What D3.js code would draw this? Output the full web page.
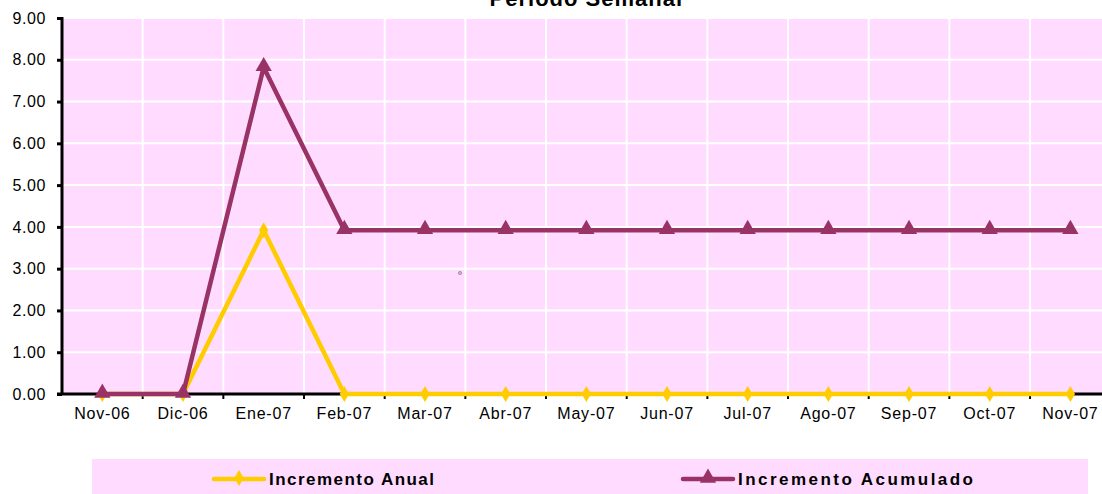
<!DOCTYPE html>
<html>
<head>
<meta charset="utf-8">
<script src="https://cdn.jsdelivr.net/npm/d3@7"></script>
<style>
  body { margin: 0; background: #fff; overflow: hidden; }
  svg { display: block; font-family: "Liberation Sans", Arial, sans-serif; }
</style>
</head>
<body>
<div id="chart"></div>
<script>
// data
var months = ["Nov-06", "Dic-06", "Ene-07", "Feb-07", "Mar-07", "Abr-07", "May-07",
              "Jun-07", "Jul-07", "Ago-07", "Sep-07", "Oct-07", "Nov-07"];
var anual = [0, 0, 3.92, 0, 0, 0, 0, 0, 0, 0, 0, 0, 0];
var acumulado = [0, 0, 7.82, 3.92, 3.92, 3.92, 3.92, 3.92, 3.92, 3.92, 3.92, 3.92, 3.92];
var yTicks = [0, 1, 2, 3, 4, 5, 6, 7, 8, 9];

var W = 1102, H = 494;
var mLeft = 62, mTop = 18, mBottom = 394;
var bandW = 80.67;
var mRight = mLeft + bandW * months.length;

var svg = d3.select("#chart").append("svg")
    .attr("width", W)
    .attr("height", H);

var x = d3.scaleBand()
    .domain(months)
    .range([mLeft, mRight]);
var y = d3.scaleLinear()
    .domain([0, 9])
    .range([mBottom, mTop]);

// title, cut at the top like the original
svg.append("text")
    .attr("x", (mLeft + mRight) / 2)
    .attr("y", 6)
    .attr("text-anchor", "middle")
    .attr("font-size", 22)
    .attr("font-weight", "bold")
    .attr("letter-spacing", 1)
    .text("Periodo Semanal");

// plot background
svg.append("rect")
    .attr("x", mLeft)
    .attr("y", mTop)
    .attr("width", mRight - mLeft)
    .attr("height", mBottom - mTop)
    .attr("fill", "#ffdcff");

// horizontal gridlines
svg.selectAll(".hgrid")
    .data(yTicks.slice(1))
    .enter().append("line")
    .attr("class", "hgrid")
    .attr("x1", mLeft).attr("x2", mRight)
    .attr("y1", function(d) { return y(d); })
    .attr("y2", function(d) { return y(d); })
    .attr("stroke", "#fff")
    .attr("stroke-width", 2);

// vertical gridlines at category boundaries
svg.selectAll(".vgrid")
    .data(months.slice(1))
    .enter().append("line")
    .attr("class", "vgrid")
    .attr("x1", function(d) { return x(d); })
    .attr("x2", function(d) { return x(d); })
    .attr("y1", mTop).attr("y2", mBottom)
    .attr("stroke", "#fff")
    .attr("stroke-width", 2);

// y axis
var yAxis = d3.axisLeft(y)
    .tickValues(yTicks)
    .tickFormat(d3.format(".2f"))
    .tickSize(5)
    .tickPadding(11);
var gy = svg.append("g")
    .attr("transform", "translate(" + mLeft + ",0)")
    .call(yAxis);
gy.select(".domain").attr("stroke", "#000").attr("stroke-width", 3)
    .attr("d", "M0," + (mTop - 1) + "V" + mBottom);
gy.selectAll(".tick line").attr("stroke", "#000").attr("stroke-width", 3);
gy.selectAll(".tick text")
    .attr("font-size", 16)
    .attr("letter-spacing", 0.6)
    .attr("font-family", "Liberation Sans, Arial, sans-serif")
    .attr("fill", "#000");

// x axis
var xAxis = d3.axisBottom(x).tickSize(0).tickPadding(14);
var gx = svg.append("g")
    .attr("transform", "translate(0," + mBottom + ")")
    .call(xAxis);
gx.select(".domain").attr("stroke", "#000").attr("stroke-width", 3)
    .attr("d", "M" + (mLeft - 5) + ",0H" + mRight);
gx.selectAll(".tick text")
    .attr("font-size", 16)
    .attr("letter-spacing", 0.8)
    .attr("font-family", "Liberation Sans, Arial, sans-serif")
    .attr("fill", "#000");
svg.selectAll(".xtick")
    .data(months.slice(1))
    .enter().append("line")
    .attr("class", "xtick")
    .attr("x1", function(d) { return x(d); })
    .attr("x2", function(d) { return x(d); })
    .attr("y1", mBottom).attr("y2", mBottom + 5)
    .attr("stroke", "#000")
    .attr("stroke-width", 2);

var cx = function(d, i) { return x(months[i]) + x.bandwidth() / 2; };
var line = d3.line()
    .x(function(d, i) { return cx(d, i); })
    .y(function(d) { return y(d); });

var tri = d3.symbol().type(d3.symbolTriangle).size(115);
var dia = d3.symbol().type(d3.symbolDiamond).size(75);

// Incremento Anual (drawn first, the purple series sits above it)
svg.append("path")
    .attr("d", line(anual))
    .attr("fill", "none")
    .attr("stroke", "#ffcc00")
    .attr("stroke-width", 4.5);

svg.selectAll(".dia")
    .data(anual)
    .enter().append("path")
    .attr("class", "dia")
    .attr("d", dia)
    .attr("transform", function(d, i) { return "translate(" + cx(d, i) + "," + y(d) + ")"; })
    .attr("fill", "#ffcc00");

// Incremento Acumulado
svg.append("path")
    .attr("d", line(acumulado))
    .attr("fill", "none")
    .attr("stroke", "#993366")
    .attr("stroke-width", 4.5);

svg.selectAll(".tri")
    .data(acumulado)
    .enter().append("path")
    .attr("class", "tri")
    .attr("d", tri)
    .attr("transform", function(d, i) { return "translate(" + cx(d, i) + "," + (y(d) - 1) + ")"; })
    .attr("fill", "#993366");

// stray mark in the original
svg.append("text")
    .attr("x", 460)
    .attr("y", 278)
    .attr("text-anchor", "middle")
    .attr("font-size", 9)
    .attr("fill", "#333")
    .text("º");

// legend
var lg = svg.append("g");
lg.append("rect")
    .attr("x", 92).attr("y", 459)
    .attr("width", 996).attr("height", 35)
    .attr("fill", "#ffdcff");

var legendItems = [
    {name: "Incremento Anual", color: "#ffcc00", sym: dia, x0: 214, w: 165},
    {name: "Incremento Acumulado", color: "#993366", sym: tri, x0: 683, w: 235}
];
legendItems.forEach(function(it) {
    lg.append("line")
        .attr("x1", it.x0).attr("x2", it.x0 + 50)
        .attr("y1", 479).attr("y2", 479)
        .attr("stroke", it.color)
        .attr("stroke-width", 4.5)
        .attr("stroke-linecap", "round");
    lg.append("path")
        .attr("d", it.sym)
        .attr("transform", "translate(" + (it.x0 + 25) + ",478)")
        .attr("fill", it.color);
    lg.append("text")
        .attr("x", it.x0 + 55)
        .attr("y", 485)
        .attr("font-size", 17)
        .attr("font-weight", "bold")
        .attr("textLength", it.w)
        .attr("lengthAdjust", "spacing")
        .text(it.name);
});
</script>
</body>
</html>
